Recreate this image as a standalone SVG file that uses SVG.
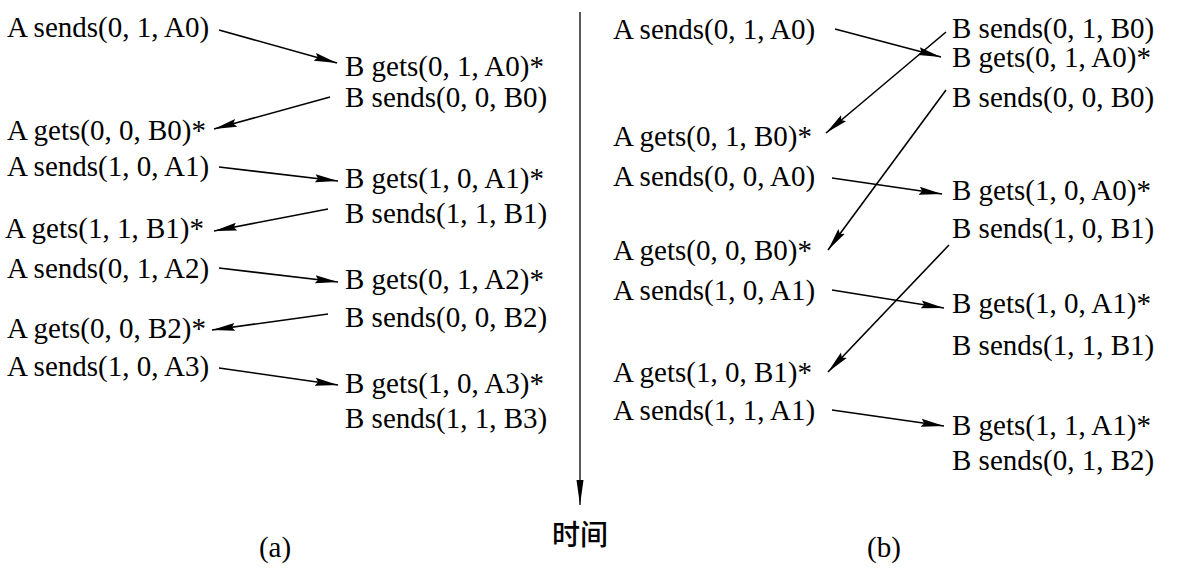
<svg xmlns="http://www.w3.org/2000/svg" width="1181" height="585" viewBox="0 0 1181 585">
<defs>
<style>
text{font-family:"Liberation Serif","Times New Roman",serif;font-size:29px;fill:#000}
.cjk{font-family:"Noto Sans CJK SC",sans-serif;font-size:28px;font-weight:500}
.c{stroke:#000;stroke-width:1.6;fill:none;marker-end:url(#ah)}
.t{stroke:#000;stroke-width:1.3;fill:none;marker-end:url(#ahv)}
</style>
<marker id="ah" markerUnits="userSpaceOnUse" markerWidth="25" markerHeight="10" refX="23" refY="4.5" orient="auto">
<path d="M0,0.5 L23,4.5 L0,8.5 L3,4.5 z" fill="#000"/>
</marker>
<marker id="ahv" markerUnits="userSpaceOnUse" markerWidth="26" markerHeight="10" refX="25" refY="4" orient="auto">
<path d="M0,0.5 L25,4 L0,7.5 z" fill="#000"/>
</marker>
</defs>
<rect width="1181" height="585" fill="#fff"/>
<g id="panel-a">
<g id="a-A0s"><text x="7" y="37">A sends(0, 1, A0)</text></g>
<g id="a-B0g"><text x="345" y="76">B gets(0, 1, A0)*</text></g>
<g id="a-B0s"><text x="345" y="107">B sends(0, 0, B0)</text></g>
<g id="a-A0g"><text x="7" y="140">A gets(0, 0, B0)*</text></g>
<g id="a-A1s"><text x="7" y="176">A sends(1, 0, A1)</text></g>
<g id="a-B1g"><text x="345" y="188">B gets(1, 0, A1)*</text></g>
<g id="a-B1s"><text x="345" y="223">B sends(1, 1, B1)</text></g>
<g id="a-A1g"><text x="5" y="238">A gets(1, 1, B1)*</text></g>
<g id="a-A2s"><text x="7" y="278">A sends(0, 1, A2)</text></g>
<g id="a-B2g"><text x="345" y="289">B gets(0, 1, A2)*</text></g>
<g id="a-B2s"><text x="345" y="327">B sends(0, 0, B2)</text></g>
<g id="a-A2g"><text x="7" y="338">A gets(0, 0, B2)*</text></g>
<g id="a-A3s"><text x="7" y="376">A sends(1, 0, A3)</text></g>
<g id="a-B3g"><text x="345" y="393">B gets(1, 0, A3)*</text></g>
<g id="a-B3s"><text x="345" y="428">B sends(1, 1, B3)</text></g>
<g id="label-a"><text x="275" y="557" text-anchor="middle">(a)</text></g>
</g>
<g id="panel-b">
<g id="b-A0s"><text x="613" y="39">A sends(0, 1, A0)</text></g>
<g id="b-B0s1"><text x="952" y="38">B sends(0, 1, B0)</text></g>
<g id="b-B0g"><text x="952" y="67">B gets(0, 1, A0)*</text></g>
<g id="b-B0s2"><text x="952" y="107">B sends(0, 0, B0)</text></g>
<g id="b-A0g1"><text x="613" y="146">A gets(0, 1, B0)*</text></g>
<g id="b-A0s2"><text x="613" y="186">A sends(0, 0, A0)</text></g>
<g id="b-B1g"><text x="952" y="200">B gets(1, 0, A0)*</text></g>
<g id="b-B1s"><text x="952" y="238">B sends(1, 0, B1)</text></g>
<g id="b-A0g2"><text x="613" y="260">A gets(0, 0, B0)*</text></g>
<g id="b-A1s"><text x="613" y="300">A sends(1, 0, A1)</text></g>
<g id="b-B2g"><text x="952" y="313">B gets(1, 0, A1)*</text></g>
<g id="b-B2s"><text x="952" y="355">B sends(1, 1, B1)</text></g>
<g id="b-A1g"><text x="613" y="382">A gets(1, 0, B1)*</text></g>
<g id="b-A2s"><text x="613" y="420">A sends(1, 1, A1)</text></g>
<g id="b-B3g"><text x="952" y="435">B gets(1, 1, A1)*</text></g>
<g id="b-B3s"><text x="952" y="470">B sends(0, 1, B2)</text></g>
<g id="label-b"><text x="884" y="557" text-anchor="middle">(b)</text></g>
</g>
<g id="time-label"><text class="cjk" x="580" y="545" text-anchor="middle">时间</text></g>
<g id="connectors">
<path class="t" d="M580,12 V505"/>
<path class="c" d="M219,30 L337,63"/>
<path class="c" d="M330,97 L214,129"/>
<path class="c" d="M219,167 L338,181"/>
<path class="c" d="M328,209 L214,231"/>
<path class="c" d="M219,268 L338,282"/>
<path class="c" d="M328,314 L212,330"/>
<path class="c" d="M219,368 L338,385"/>
<path class="c" d="M835,29 L941,57"/>
<path class="c" d="M946,32 L826,133"/>
<path class="c" d="M832,178 L942,194"/>
<path class="c" d="M946,90 L828,250"/>
<path class="c" d="M832,290 L944,308"/>
<path class="c" d="M949,245 L828,372"/>
<path class="c" d="M832,410 L944,426"/>
</g>
</svg>
